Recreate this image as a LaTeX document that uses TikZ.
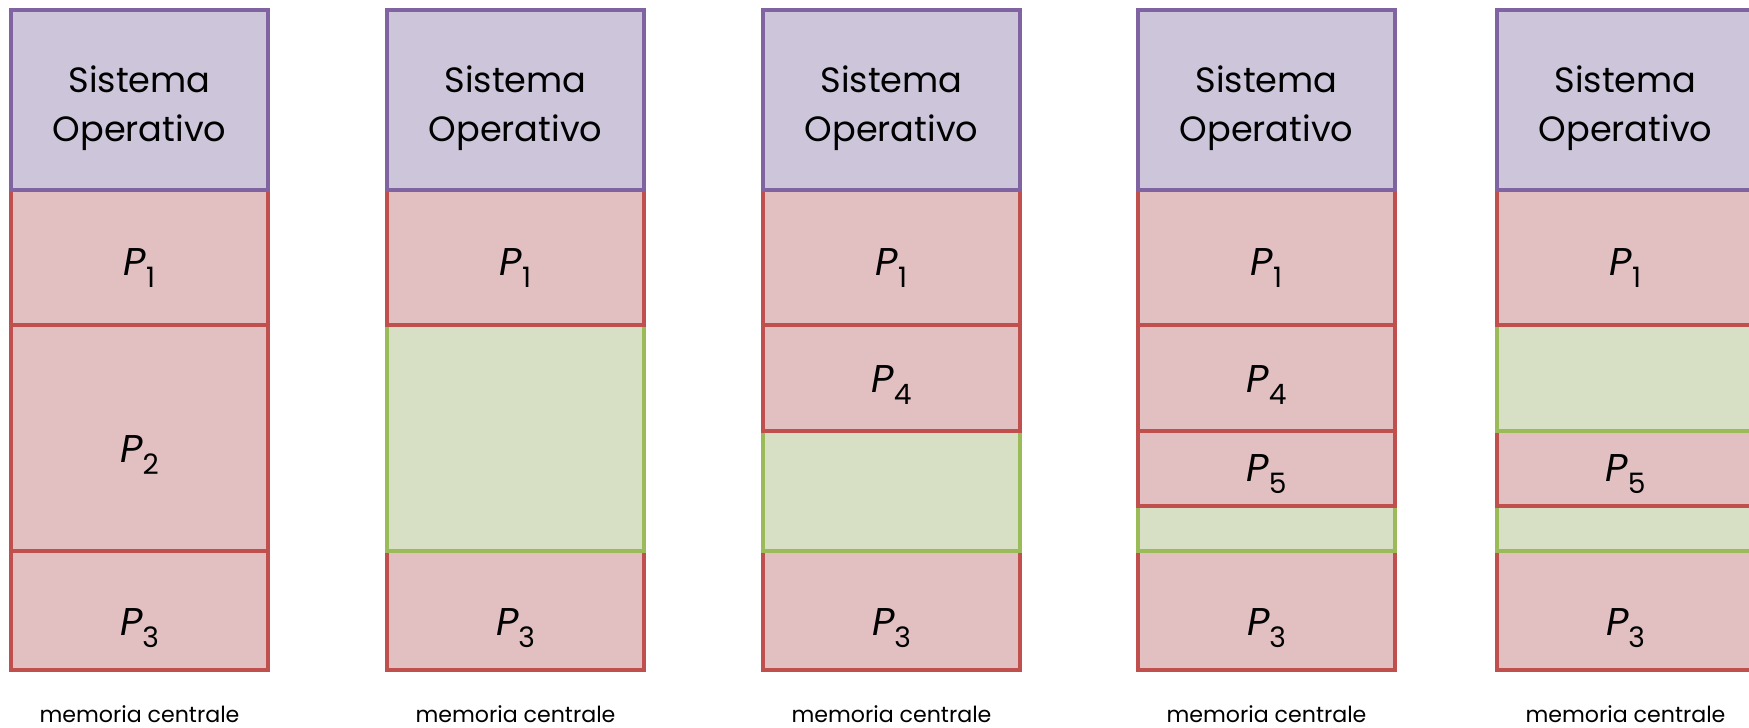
\documentclass[tikz,border=0pt]{standalone}
\usepackage{fontspec}
\setmainfont{Poppins}
\usepackage{tikz}
\usetikzlibrary{positioning}
\definecolor{soFill}{HTML}{CDC6DA}
\definecolor{soLine}{HTML}{8064A2}
\definecolor{pFill}{HTML}{E2C0C2}
\definecolor{pLine}{HTML}{C0504D}
\definecolor{hFill}{HTML}{D7E0C5}
\definecolor{hLine}{HTML}{9BBB59}
\newcommand{\pname}[1]{{\itshape P}\raisebox{-6.8pt}{\fontsize{16}{16}\selectfont #1}}

\begin{document}
\begin{tikzpicture}[block/.style={rectangle, draw, line width=1.8pt, minimum width=5.14cm, inner sep=0pt, outer sep=0pt, align=center},
  sysop/.style={block, draw=soLine, fill=soFill, font=\fontsize{20}{28}\selectfont, text height=47pt, text depth=0pt},
  proc/.style={block, draw=pLine, fill=pFill, font=\fontsize{22}{26}\selectfont, text height=21pt, text depth=0pt},
  lowtext/.style={text height=28pt},
  hole/.style={block, draw=hLine, fill=hFill},
  memlabel/.style={font=\fontsize{12.6}{15}\selectfont}]

\useasboundingbox (0,0) rectangle (34.98,-14.54);

% first column
\node[proc, lowtext, minimum height=2.38cm, anchor=south west] (P3-a) at (0.22,-13.4) {\pname{3}};
\node[proc, lowtext, minimum height=4.52cm, above=0pt of P3-a] (P2-a) {\pname{2}};
\node[proc, minimum height=2.7cm, above=0pt of P2-a] (P1-a) {\pname{1}};
\node[sysop, minimum height=3.6cm, above=0pt of P1-a] (SO-a) {Sistema\\Operativo};
\node[memlabel, below=0.58cm of P3-a] (M-a) {memoria centrale};

% second column
\node[proc, lowtext, minimum height=2.38cm, anchor=south west] (P3-b) at (7.74,-13.4) {\pname{3}};
\node[hole, minimum height=4.52cm, above=0pt of P3-b] (H1-b) {};
\node[proc, minimum height=2.7cm, above=0pt of H1-b] (P1-b) {\pname{1}};
\node[sysop, minimum height=3.6cm, above=0pt of P1-b] (SO-b) {Sistema\\Operativo};
\node[memlabel, below=0.58cm of P3-b] (M-b) {memoria centrale};

% third column
\node[proc, lowtext, minimum height=2.38cm, anchor=south west] (P3-c) at (15.26,-13.4) {\pname{3}};
\node[hole, minimum height=2.4cm, above=0pt of P3-c] (H1-c) {};
\node[proc, text height=17pt, minimum height=2.12cm, above=0pt of H1-c] (P4-c) {\pname{4}};
\node[proc, minimum height=2.7cm, above=0pt of P4-c] (P1-c) {\pname{1}};
\node[sysop, minimum height=3.6cm, above=0pt of P1-c] (SO-c) {Sistema\\Operativo};
\node[memlabel, below=0.58cm of P3-c] (M-c) {memoria centrale};

% fourth column
\node[proc, lowtext, minimum height=2.38cm, anchor=south west] (P3-d) at (22.76,-13.4) {\pname{3}};
\node[hole, minimum height=0.9cm, above=0pt of P3-d] (H1-d) {};
\node[proc, text height=15pt, minimum height=1.5cm, above=0pt of H1-d] (P5-d) {\pname{5}};
\node[proc, text height=17pt, minimum height=2.12cm, above=0pt of P5-d] (P4-d) {\pname{4}};
\node[proc, minimum height=2.7cm, above=0pt of P4-d] (P1-d) {\pname{1}};
\node[sysop, minimum height=3.6cm, above=0pt of P1-d] (SO-d) {Sistema\\Operativo};
\node[memlabel, below=0.58cm of P3-d] (M-d) {memoria centrale};

% fifth column
\node[proc, lowtext, minimum height=2.38cm, anchor=south west] (P3-e) at (29.94,-13.4) {\pname{3}};
\node[hole, minimum height=0.9cm, above=0pt of P3-e] (H1-e) {};
\node[proc, text height=15pt, minimum height=1.5cm, above=0pt of H1-e] (P5-e) {\pname{5}};
\node[hole, minimum height=2.12cm, above=0pt of P5-e] (H2-e) {};
\node[proc, minimum height=2.7cm, above=0pt of H2-e] (P1-e) {\pname{1}};
\node[sysop, minimum height=3.6cm, above=0pt of P1-e] (SO-e) {Sistema\\Operativo};
\node[memlabel, below=0.58cm of P3-e] (M-e) {memoria centrale};
\end{tikzpicture}
\end{document}
